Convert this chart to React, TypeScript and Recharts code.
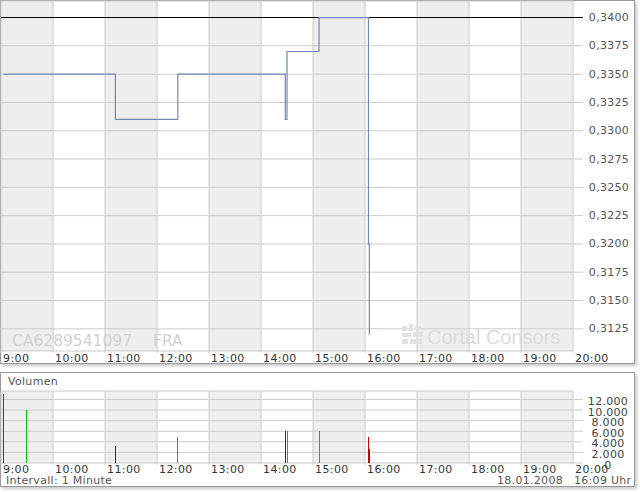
import { Bar, Cell, CartesianGrid, ComposedChart, Line, XAxis, YAxis } from 'recharts';

// time of each trade and its price
const priceTimes = ['09:03', '11:12', '12:24', '14:28', '14:30', '15:07', '16:04', '16:05'];
const priceValues = [0.335, 0.331, 0.335, 0.331, 0.337, 0.34, 0.32, 0.312];
const previousClose = 0.34;

const volumeTimes = ['09:03', '09:29', '11:12', '12:24', '14:28', '14:30', '15:07', '16:04', '16:05'];
const volumeValues = [13000, 10000, 3200, 5000, 6000, 6000, 6000, 5000, 2600];
const volumeColors = ['#e00000', '#00c800', '#a00000', '#00c800', '#a00000', '#00c800', '#00c800', '#cc0000', '#cc0000'];

const hourLabels = ['9:00', '10:00', '11:00', '12:00', '13:00', '14:00', '15:00', '16:00', '17:00', '18:00', '19:00', '20:00'];
const priceTicks = [0.3125, 0.315, 0.3175, 0.32, 0.3225, 0.325, 0.3275, 0.33, 0.3325, 0.335, 0.3375, 0.34];
const volumeTicks = [0, 2000, 4000, 6000, 8000, 10000, 12000];

const FONT = '"DejaVu Sans", Verdana, sans-serif';
const GRID = '#cccccc';

function toMinutes(label: string): number {
  const [h, m] = label.split(':').map(Number);
  return h * 60 + m;
}

const hourTicks = hourLabels.map(toMinutes);
const dayStart = hourTicks[0];
const dayEnd = hourTicks[hourTicks.length - 1];
const priceRows = priceTimes.map((t, i) => ({ t: toMinutes(t), price: priceValues[i] }));
const closeRows = [
  { t: dayStart, close: previousClose },
  { t: dayEnd, close: previousClose },
];
const volumeRows = volumeTimes.map((t, i) => ({ t: toMinutes(t), volume: volumeValues[i], color: volumeColors[i] }));

function hourName(v: number): string {
  return `${Math.floor(v / 60)}:${String(v % 60).padStart(2, '0')}`;
}

function germanThousands(v: number): string {
  return String(v).replace(/\B(?=(\d{3})+(?!\d))/g, '.');
}

function HourTick(props: any) {
  const { x, y, payload, dy = 7 } = props;
  return (
    <g>
      <line x1={x} x2={x} y1={y} y2={y + 2} stroke={GRID} />
      <text x={x + 2} y={y + dy} dominantBaseline="central" fontSize={11} fontFamily={FONT} fill="#333" letterSpacing={0.4}>
        {hourName(payload.value)}
      </text>
    </g>
  );
}

function PriceTick(props: any) {
  const { x, y, payload } = props;
  const dark = payload.value === previousClose;
  return (
    <g>
      <line x1={x} x2={x + 10} y1={y} y2={y} stroke={dark ? '#000' : GRID} />
      <text x={x + 36} y={y} textAnchor="middle" dominantBaseline="central" fontSize={11} fontFamily={FONT} fill="#555" letterSpacing={0.3}>
        {payload.value.toFixed(4).replace('.', ',')}
      </text>
    </g>
  );
}

function VolumeTick(props: any) {
  const { x, y, payload } = props;
  return (
    <g>
      <line x1={x} x2={x + 10} y1={y} y2={y} stroke={GRID} />
      <text x={x + 35} y={y + 2} textAnchor="middle" dominantBaseline="central" fontSize={11} fontFamily={FONT} fill="#444" letterSpacing={0.3}>
        {germanThousands(payload.value)}
      </text>
    </g>
  );
}

function CrispBar(props: any) {
  const { x, y, width, height, index, payload } = props;
  if (!height || height <= 0) return null;
  const fill = payload?.color ?? volumeColors[index] ?? props.fill;
  return <rect x={Math.round(x)} y={y} width={Math.max(1, Math.round(width))} height={height} fill={fill} shapeRendering="crispEdges" />;
}

const boxStyle = {
  position: 'absolute' as const,
  left: 0,
  width: 635,
  boxSizing: 'border-box' as const,
  border: '1px solid #9a9a9a',
  background: '#fff',
  boxShadow: '2px 2px 3px rgba(0,0,0,0.22)',
};

const labelStyle = {
  position: 'absolute' as const,
  fontFamily: FONT,
  fontSize: 11,
  color: '#555',
  lineHeight: '12px',
  letterSpacing: 0.3,
  whiteSpace: 'nowrap' as const,
};

export default function App() {
  return (
    <div style={{ position: 'absolute', left: 0, top: 0, width: 640, height: 492, background: '#fff', overflow: 'hidden' }}>
      <div style={{ ...boxStyle, top: 0, height: 364 }} />
      <div style={{ ...boxStyle, top: 372, height: 115 }} />

      <div style={{ position: 'absolute', left: 0, top: 0 }}>
        <ComposedChart width={640} height={363} data={priceRows} margin={{ top: 1, right: 1, bottom: 0, left: 1 }}>
          <CartesianGrid stroke={GRID} verticalFill={['#eeeeee', '#ffffff']} fillOpacity={1} />
          <XAxis
            dataKey="t"
            type="number"
            domain={[dayStart, dayEnd]}
            ticks={hourTicks}
            allowDataOverflow
            height={12}
            axisLine={false}
            tickLine={false}
            tickSize={0}
            tickMargin={0}
            interval={0}
            tick={<HourTick />}
          />
          <YAxis
            orientation="right"
            type="number"
            domain={[0.31054, 0.34146]}
            ticks={priceTicks}
            allowDataOverflow
            width={66}
            axisLine={false}
            tickLine={false}
            tickSize={0}
            tickMargin={0}
            interval={0}
            tick={<PriceTick />}
          />
          <Line data={closeRows} type="linear" dataKey="close" stroke="#000" strokeWidth={1} dot={false} isAnimationActive={false} />
          <Line data={priceRows} type="stepAfter" dataKey="price" stroke="#7389b3" strokeWidth={1.2} dot={false} isAnimationActive={false} />
        </ComposedChart>
      </div>

      <svg width={640} height={363} style={{ position: 'absolute', left: 0, top: 0, pointerEvents: 'none' }}>
        <text x={12} y={346} fontSize={15.5} fontFamily={FONT} fill="#d2d2d2">CA6289541097</text>
        <text x={153} y={346} fontSize={15.5} fontFamily={FONT} fill="#d2d2d2">FRA</text>
        <g fill="#e2e2e2">
          <rect x={402} y={326} width={5} height={5} />
          <rect x={409} y={324} width={4} height={7} />
          <rect x={415} y={326} width={6} height={4} />
          <rect x={402} y={333} width={9} height={4} />
          <rect x={413} y={332} width={10} height={5} />
          <rect x={402} y={339} width={6} height={5} />
          <rect x={410} y={339} width={12} height={5} />
        </g>
        <text x={427} y={344} fontSize={20} fontFamily='"Liberation Sans", Arial, sans-serif' fill="#dcdcdc">Cortal Consors</text>
      </svg>

      <div style={{ ...labelStyle, left: 8, top: 376 }}>Volumen</div>

      <div style={{ position: 'absolute', left: 0, top: 372 }}>
        <ComposedChart width={640} height={110} data={volumeRows} margin={{ top: 19, right: 1, bottom: 0, left: 1 }}>
          <CartesianGrid stroke={GRID} verticalFill={['#eeeeee', '#ffffff']} fillOpacity={1} />
          <XAxis
            dataKey="t"
            type="number"
            domain={[dayStart, dayEnd]}
            ticks={hourTicks}
            allowDataOverflow
            height={19}
            axisLine={false}
            tickLine={false}
            tickSize={0}
            tickMargin={0}
            interval={0}
            tick={<HourTick dy={6} />}
          />
          <YAxis
            orientation="right"
            type="number"
            domain={[0, 13600]}
            ticks={volumeTicks}
            allowDataOverflow
            width={66}
            axisLine={false}
            tickLine={false}
            tickSize={0}
            tickMargin={0}
            interval={0}
            tick={<VolumeTick />}
          />
          <Bar dataKey="volume" barSize={1} isAnimationActive={false} shape={<CrispBar />}>
            {volumeRows.map((row) => (
              <Cell key={row.t} fill={row.color} />
            ))}
          </Bar>
        </ComposedChart>
      </div>

      <div style={{ ...labelStyle, left: 6, top: 475 }}>Intervall: 1 Minute</div>
      <div style={{ ...labelStyle, left: 497, top: 475 }}>18.01.2008</div>
      <div style={{ ...labelStyle, left: 574, top: 475 }}>16:09 Uhr</div>
    </div>
  );
}
